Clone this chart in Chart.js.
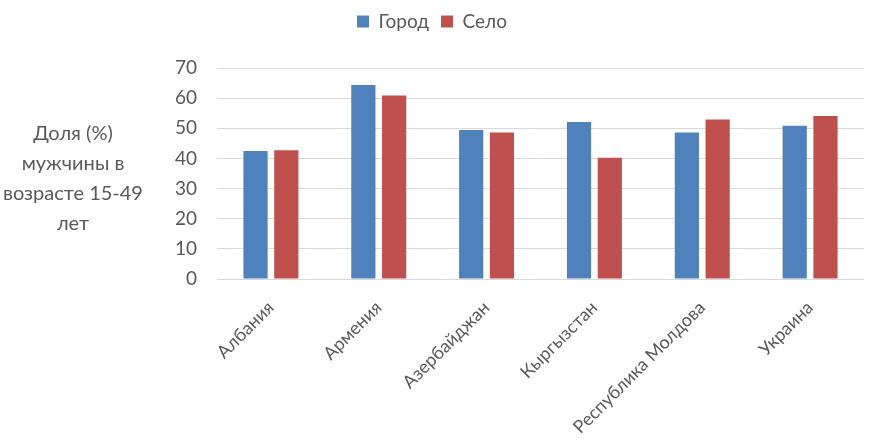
<!DOCTYPE html>
<html>
<head>
<meta charset="utf-8">
<script src="https://cdn.jsdelivr.net/npm/chart.js@4"></script>
<style>
html,body{margin:0;padding:0;background:#fff;}
#wrap{width:869px;height:447px;position:relative;}
</style>
</head>
<body>
<div id="wrap"><canvas id="c" width="869" height="447"></canvas></div>
<script>
const categories = ["Албания", "Армения", "Азербайджан", "Кыргызстан", "Республика Молдова", "Украина"];
const seriesNames = ["Город", "Село"];
const gorod = [42.5, 64.4, 49.4, 52.1, 48.6, 50.8];
const selo = [42.7, 60.9, 48.6, 40.2, 52.9, 54.1];
const yTitleLines = ["Доля (%)", "мужчины в", "возрасте 15-49", "лет"];
const yMin = 0, yMax = 70, yStep = 10;

const FONT = "Lato, 'Open Sans', sans-serif";
const GRAY = "#595959";

const yTitlePlugin = {
  id: 'yTitle',
  afterInit(chart) {
    const lg = chart.legend;
    if (lg && !lg._patched) {
      const orig = lg.fit;
      lg.fit = function () { orig.call(this); this.height = 68; };
      lg._patched = true;
    }
  },
  afterDraw(chart) {
    const ctx = chart.ctx;
    ctx.save();
    ctx.font = "20px " + FONT;
    ctx.fillStyle = GRAY;
    ctx.textAlign = 'center';
    ctx.textBaseline = 'middle';
    const cx = 73, startY = 134, lh = 30;
    yTitleLines.forEach((t, i) => ctx.fillText(t, cx, startY + i * lh));
    ctx.restore();
  }
};

new Chart(document.getElementById('c'), {
  type: 'bar',
  data: {
    labels: categories,
    datasets: [
      { label: seriesNames[0], data: gorod, backgroundColor: '#4F81BD', categoryPercentage: 0.571, barPercentage: 0.786 },
      { label: seriesNames[1], data: selo, backgroundColor: '#C0504D', categoryPercentage: 0.571, barPercentage: 0.786 }
    ]
  },
  options: {
    responsive: false,
    animation: false,
    devicePixelRatio: 1,
    layout: { padding: { left: 0, right: 5, top: 0, bottom: 0 } },
    plugins: {
      legend: {
        position: 'top',
        labels: {
          font: { family: FONT, size: 19 },
          color: GRAY,
          boxWidth: 12,
          boxHeight: 12,
          padding: 12
        }
      },
      tooltip: { enabled: false }
    },
    scales: {
      x: {
        grid: { display: false },
        border: { display: false },
        ticks: {
          font: { family: FONT, size: 18 },
          color: GRAY,
          maxRotation: 45,
          minRotation: 45,
          padding: 10
        },
        afterFit(scale) { scale.height = 447 - 279; }
      },
      y: {
        min: yMin, max: yMax,
        grid: { color: '#D9D9D9', lineWidth: 1, drawTicks: false },
        border: { display: false },
        ticks: {
          stepSize: yStep,
          font: { family: FONT, size: 19 },
          color: GRAY,
          padding: 20
        },
        afterFit(scale) { scale.width = 217; }
      }
    }
  },
  plugins: [yTitlePlugin]
});
</script>
</body>
</html>
